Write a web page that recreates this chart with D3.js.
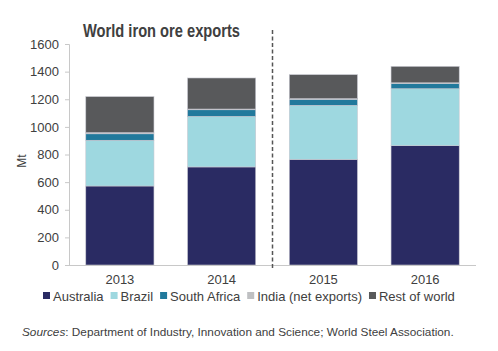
<!DOCTYPE html>
<html>
<head>
<meta charset="utf-8">
<script src="https://cdn.jsdelivr.net/npm/d3@7"></script>
<style>
  body { margin: 0; background: #fff; }
  text { font-family: "Liberation Sans", Arial, sans-serif; fill: #404040; }
</style>
</head>
<body>
<div id="chart"></div>
<script>
// data (Mt)
const years = ["2013", "2014", "2015", "2016"];
const seriesNames = ["Australia", "Brazil", "South Africa", "India (net exports)", "Rest of world"];
const australia = [572, 710, 765, 864];
const brazil = [331, 366, 391, 412];
const southAfrica = [47, 48, 44, 39];
const india = [8, 5, 4, 4];
const restOfWorld = [261, 225, 174, 119];
const yTicks = [0, 200, 400, 600, 800, 1000, 1200, 1400, 1600];
const colors = ["#2a2b63", "#9ed8e0", "#21799c", "#bfc0c2", "#58595b"];

const width = 498, height = 351;
const margin = { top: 44, right: 22, bottom: 86, left: 69 };

const svg = d3.select("#chart").append("svg")
  .attr("width", width).attr("height", height);

const table = years.map((y, i) => ({
  year: y,
  "Australia": australia[i],
  "Brazil": brazil[i],
  "South Africa": southAfrica[i],
  "India (net exports)": india[i],
  "Rest of world": restOfWorld[i]
}));
const stacked = d3.stack().keys(seriesNames)(table);

const x = d3.scaleBand().domain(years)
  .range([margin.left, width - margin.right])
  .paddingInner(0.33).paddingOuter(0.165);
const y = d3.scaleLinear().domain([0, 1600])
  .range([height - margin.bottom, margin.top]);
const color = d3.scaleOrdinal(seriesNames, colors);

// bars
svg.append("g").selectAll("g")
  .data(stacked)
  .join("g")
  .attr("fill", d => color(d.key))
  .selectAll("rect")
  .data(d => d)
  .join("rect")
  .attr("x", d => x(d.data.year))
  .attr("width", x.bandwidth())
  .attr("y", d => y(d[1]))
  .attr("height", d => y(d[0]) - y(d[1]))
  .attr("stroke", "#c8c8d0")
  .attr("stroke-width", 0.6);

// y axis
const yAxis = svg.append("g")
  .attr("transform", `translate(${margin.left},0)`)
  .call(d3.axisLeft(y).tickValues(yTicks).tickFormat(d3.format("d")).tickSize(4).tickPadding(6));
yAxis.select(".domain").attr("stroke", "#c8c8c8");
yAxis.selectAll(".tick line").attr("stroke", "#c8c8c8");
yAxis.selectAll("text").style("font-size", "13px").attr("fill", "#404040");

// x axis
const xAxis = svg.append("g")
  .attr("transform", `translate(0,${height - margin.bottom})`)
  .call(d3.axisBottom(x).tickSize(0).tickPadding(10).tickSizeOuter(0));
xAxis.select(".domain").attr("stroke", "#c8c8c8")
  .attr("d", `M${margin.left},0.5H${width - margin.right}`);
xAxis.selectAll("text").style("font-size", "13px").attr("fill", "#404040");

// dashed divider between actual and forecast years
const divX = (x("2014") + x.bandwidth() + x("2015")) / 2;
svg.append("line")
  .attr("x1", divX).attr("x2", divX)
  .attr("y1", 30).attr("y2", height - margin.bottom + 5)
  .attr("stroke", "#555").attr("stroke-width", 1.5)
  .attr("stroke-dasharray", "4,2.5");

// y label
svg.append("text")
  .attr("transform", `translate(26,161) rotate(-90)`)
  .attr("text-anchor", "middle")
  .style("font-size", "12px")
  .text("Mt");

// title (condensed look via textLength)
svg.append("text")
  .attr("x", 83).attr("y", 37)
  .attr("textLength", 157).attr("lengthAdjust", "spacingAndGlyphs")
  .style("font-size", "18px").style("font-weight", "bold")
  .attr("fill", "#404040")
  .text("World iron ore exports");

// legend
const legend = svg.append("g").attr("transform", "translate(43,301)");
let lx = 0;
seriesNames.forEach((name, i) => {
  const g = legend.append("g").attr("transform", `translate(${lx},0)`);
  g.append("rect").attr("x", 0).attr("y", -9).attr("width", 7).attr("height", 7)
    .attr("fill", colors[i]);
  const t = g.append("text").attr("x", 10).attr("y", 0)
    .style("font-size", "13px").text(name);
  lx += 10 + t.node().getComputedTextLength() + 7;
});

// source note
const src = svg.append("text").attr("x", 22).attr("y", 336).style("font-size", "11.8px");
src.append("tspan").style("font-style", "italic").text("Sources");
src.append("tspan").text(": Department of Industry, Innovation and Science; World Steel Association.");
</script>
</body>
</html>
